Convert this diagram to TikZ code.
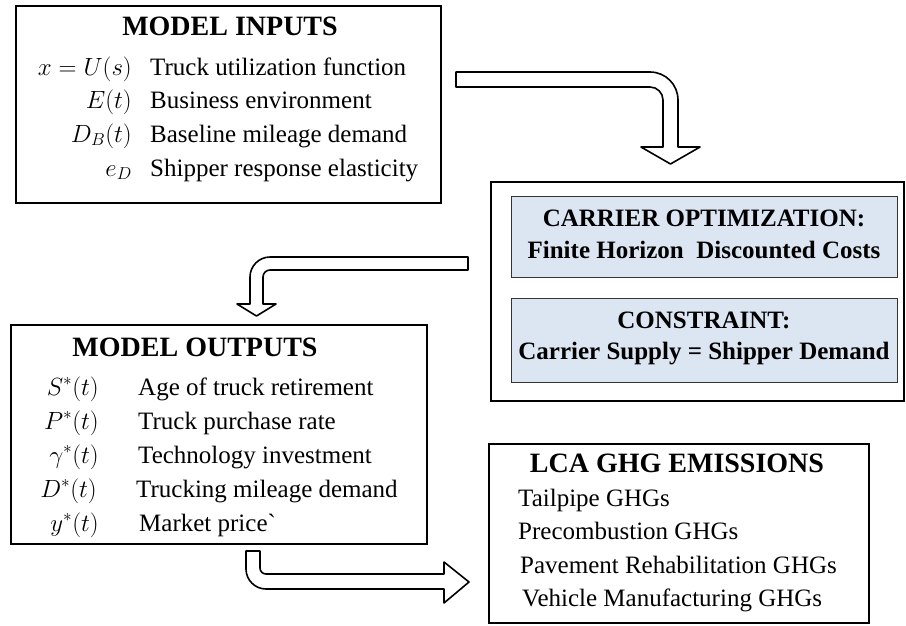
\documentclass[tikz,border=0pt]{standalone}
\usepackage{fontspec}
\setmainfont{Liberation Serif}
\definecolor{lightblue}{HTML}{DCE6F2}
\definecolor{darkline}{HTML}{333333}
\begin{document}
\begin{tikzpicture}[x=1pt,y=-1pt,
  bigbox/.style={draw=black,line width=2.2pt,anchor=north west,inner sep=0pt},
  bluebox/.style={draw=darkline,line width=1.2pt,fill=lightblue,anchor=north west,inner sep=0pt},
  blockarrow/.style={draw=black,line width=1.6pt,fill=white,line join=round},
  title/.style={font=\fontsize{28}{30}\selectfont\bfseries,inner sep=0pt,text height=19pt,text depth=0pt},
  btext/.style={font=\fontsize{25}{30}\selectfont\bfseries,inner sep=0pt,text height=17pt,text depth=5pt},
  body/.style={font=\fontsize{25}{30}\selectfont,inner sep=0pt,text height=17pt,text depth=5pt},
  sym/.style={font=\fontsize{25}{30}\selectfont,inner sep=0pt,text height=17pt,text depth=5pt,anchor=east},
  desc/.style={body,anchor=west}]
\useasboundingbox (0,0) rectangle (906,625);
% boxes
\node[bigbox,minimum width=425pt,minimum height=197pt] (inputs) at (15,5) {};
\node[bigbox,minimum width=413pt,minimum height=219pt] (carrier) at (490,181) {};
\node[bluebox,minimum width=386pt,minimum height=81pt] (opt) at (511,196) {};
\node[bluebox,minimum width=386pt,minimum height=84pt] (cons) at (511,298) {};
\node[bigbox,minimum width=416pt,minimum height=219pt] (outputs) at (10,324) {};
\node[bigbox,minimum width=380pt,minimum height=179pt] (lca) at (488,443) {};
% model inputs text
\node[title] (tin) at (230,26) {MODEL INPUTS};
\node[sym] (s1) at (132,69) {$x = U(s)$};
\node[desc] (d1) at (150,69) {Truck utilization function};
\node[sym] (s2) at (132,102) {$E(t)$};
\node[desc] (d2) at (150,102) {Business environment};
\node[sym] (s3) at (132,136) {$D_B(t)$};
\node[desc] (d3) at (150,136) {Baseline mileage demand};
\node[sym] (s4) at (132,170) {$e_D$};
\node[desc] (d4) at (150,170) {Shipper response elasticity};
% carrier text
\node[btext] (c1) at (704,220) {CARRIER OPTIMIZATION:};
\node[btext] (c2) at (704,252) {Finite Horizon\ \ Discounted Costs};
\node[btext] (c3) at (704,322) {CONSTRAINT:};
\node[btext] (c4) at (704,353) {Carrier Supply = Shipper Demand};
% model outputs text
\node[title] (tout) at (195,347) {MODEL OUTPUTS};
\node[sym] (o1) at (99,389) {$S^*(t)$};
\node[desc] (p1) at (138,389) {Age of truck retirement};
\node[sym] (o2) at (99,423) {$P^*(t)$};
\node[desc] (p2) at (138,423) {Truck purchase rate};
\node[sym] (o3) at (99,457) {$\gamma^*(t)$};
\node[desc] (p3) at (138,457) {Technology investment};
\node[sym] (o4) at (97,491) {$D^*(t)$};
\node[desc] (p4) at (136,491) {Trucking mileage demand};
\node[sym] (o5) at (99,525) {$y^*(t)$};
\node[desc] (p5) at (139,525) {Market price\textasciigrave};
% lca text
\node[title] (tl) at (677,463) {LCA GHG EMISSIONS};
\node[desc] (l1) at (518,500) {Tailpipe GHGs};
\node[desc] (l2) at (518,533) {Precombustion GHGs};
\node[desc] (l3) at (520,567) {Pavement Rehabilitation GHGs};
\node[desc] (l4) at (522,600) {Vehicle Manufacturing GHGs};
% block arrows
\draw[blockarrow] (456,72) -- (650,72) .. controls (665.5,72) and (678,84.5) .. (678,100)
  -- (678,147) -- (700,147) -- (670.5,164) -- (641,147) -- (663,147) -- (663,100)
  .. controls (663,92.8) and (657.2,87) .. (650,87) -- (456,87) -- cycle;
\draw[blockarrow] (468,257) -- (270,257) .. controls (259,257) and (250,266) .. (250,277)
  -- (250,304) -- (237,304) -- (256.5,316) -- (276,304) -- (263,304) -- (263,277)
  .. controls (263,273.1) and (266.1,270) .. (270,270) -- (468,270) -- cycle;
\draw[blockarrow] (246,551) -- (260,551) -- (260,568) .. controls (260,571.3) and (262.7,574) .. (266,574)
  -- (444,574) -- (444,562) -- (469,582) -- (444,603) -- (444,589) -- (266,589)
  .. controls (255,589) and (246,580) .. (246,569) -- cycle;
\end{tikzpicture}
\end{document}
